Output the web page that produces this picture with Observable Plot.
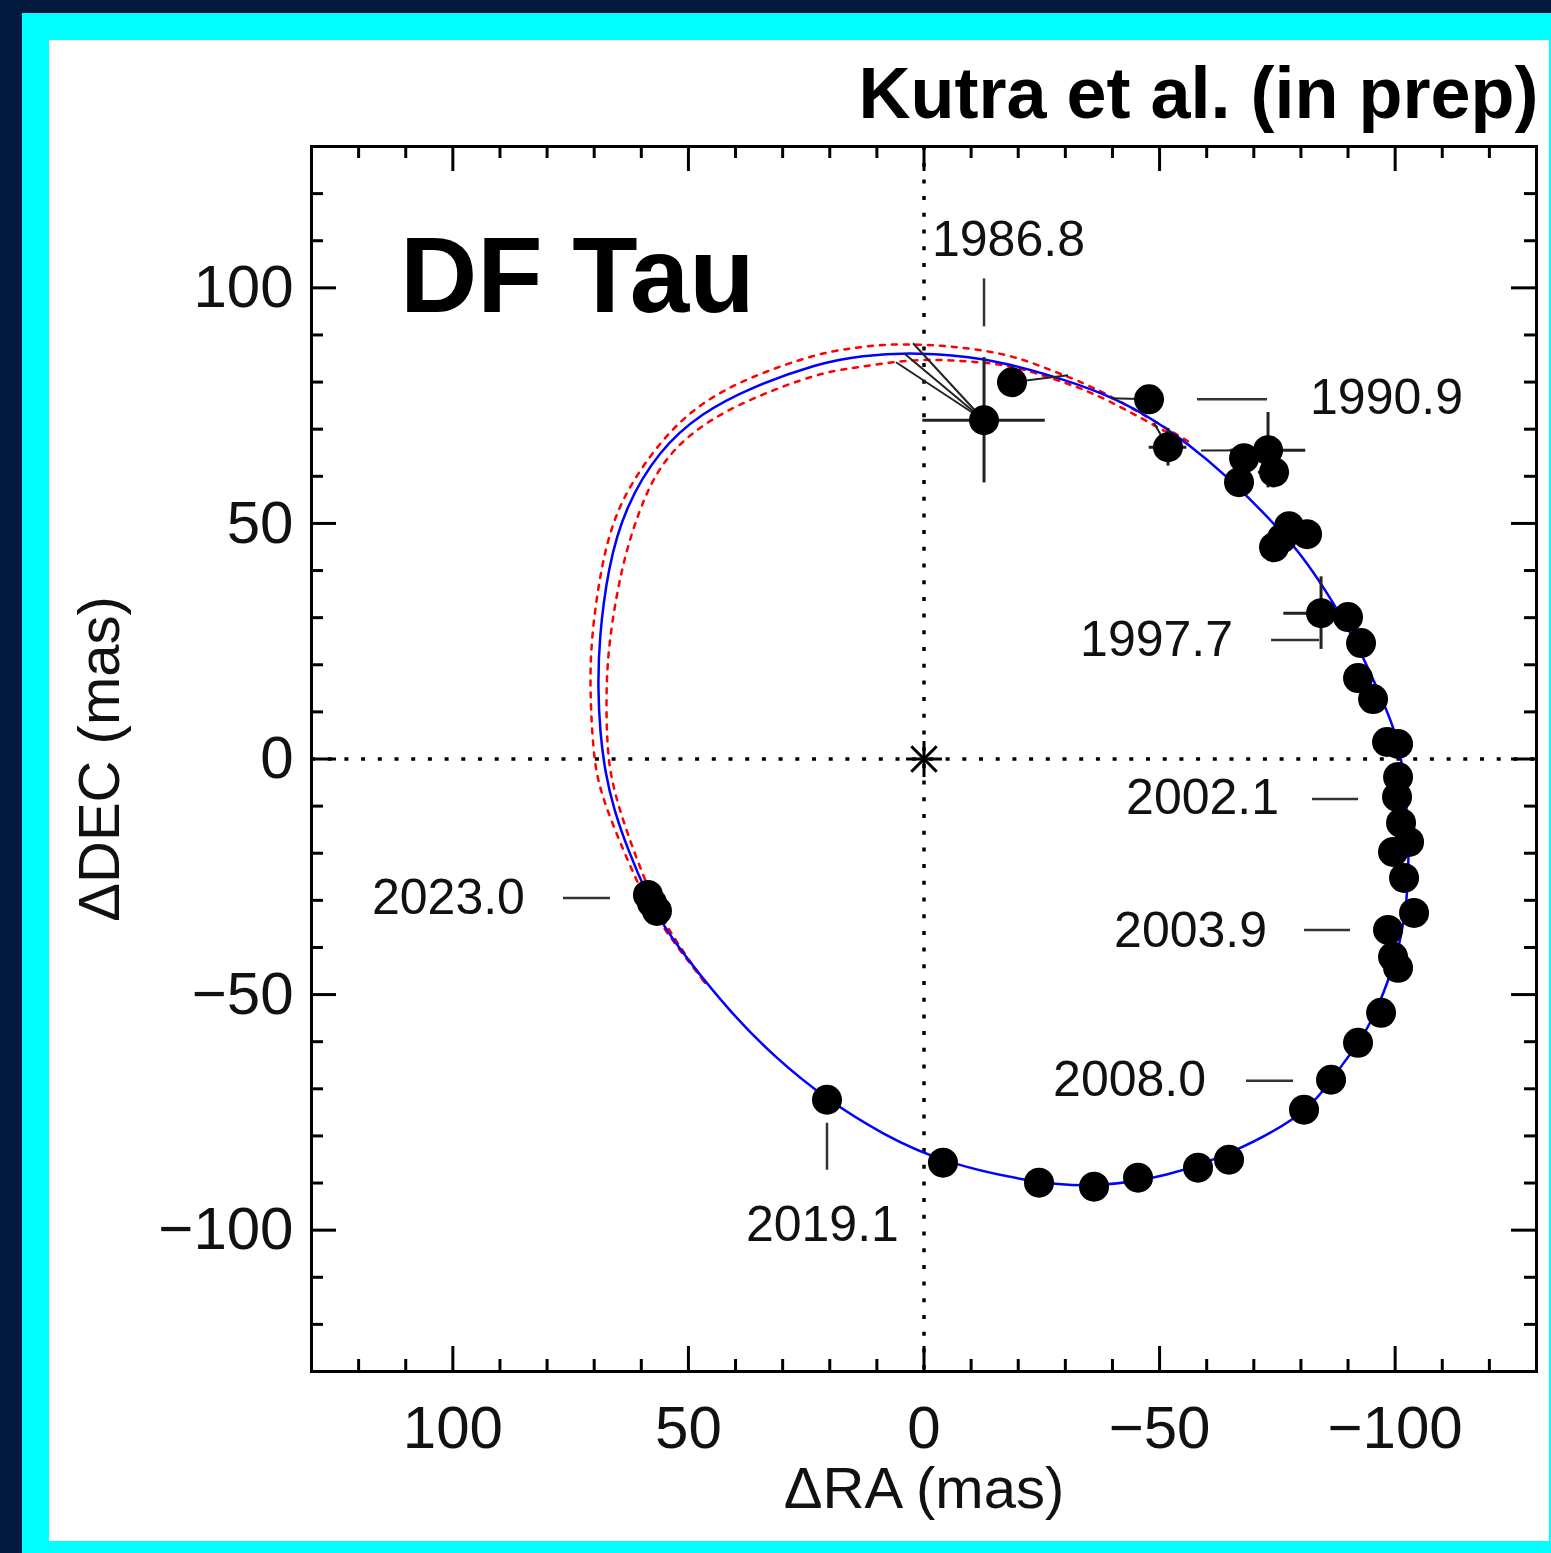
<!DOCTYPE html>
<html><head><meta charset="utf-8">
<script src="https://cdn.jsdelivr.net/npm/d3@7"></script>
<script src="https://cdn.jsdelivr.net/npm/@observablehq/plot@0.6"></script>
<style>
html,body{margin:0;padding:0;background:#021a3d;width:1551px;height:1553px;overflow:hidden}
#cyan{position:absolute;left:22px;top:13px;width:1529px;height:1540px;background:#00ffff}
#white{position:absolute;left:49px;top:40px;width:1500px;height:1501px;background:#ffffff}
#chart{position:absolute;left:0;top:0;width:1551px;height:1553px}
</style></head><body>
<div id="cyan"></div><div id="white"></div><div id="chart"></div>
<script>
// ---- axis ticks ----
const xMajor = [100, 50, 0, -50, -100];
const yMajor = [100, 50, 0, -50, -100];
const xMinor = [120,110,90,80,70,60,40,30,20,10,-10,-20,-30,-40,-60,-70,-80,-90,-110,-120];
const yMinor = [120,110,90,80,70,60,40,30,20,10,-10,-20,-30,-40,-60,-70,-80,-90,-110,-120];

// ---- observed positions (mas) ----
const obsRA  = [-12.74,-18.68,-47.76,-51.79,-67.93,-73.02,-74.29,-66.86,-77.48,-81.30,-75.99,-74.29,-84.27,-90.00,-92.76,-92.12,-95.31,-98.28,-100.62,-100.62,-100.40,-101.25,-102.95,-99.55,-101.89,-104.01,-98.49,-99.55,-100.62,-97.01,-92.12,-86.39,-80.66,-64.74,-58.16,-45.43,-36.09,-24.41,-4.03,20.59,58.59,57.74,56.68];
const obsDEC = [71.90,79.96,76.35,66.17,63.84,65.54,60.87,58.75,49.42,47.72,46.87,44.96,30.96,30.12,24.60,17.18,12.73,3.61,3.18,-3.82,-8.06,-13.57,-17.60,-19.72,-25.24,-32.66,-36.27,-41.99,-44.33,-53.87,-60.23,-68.08,-74.44,-85.05,-86.74,-88.86,-90.77,-89.93,-85.68,-72.32,-28.84,-30.54,-32.24];
const errRA  = [13,0,0,4,0,8,3.3,0,0,0,0,0,7.9,0,0,0,0,0,0,0,0,0,0,0,0,0,0,0,0,0,0,0,0,0,0,0,0,0,0,0,0,0,0];
const errDEC = [13.3,0,0,4,0,8,3.3,0,0,0,0,0,7.7,0,0,0,0,0,0,0,0,0,0,0,0,0,0,0,0,0,0,0,0,0,0,0,0,0,0,0,0,0,0];

// ---- residual lines: observed point index -> predicted position ----
const resFrom = [0, 0, 0, 1, 2, 3, 5];
const resRA   = [2.33, 4.25, 5.94, -30.57, -39.69, -48.8, -58.8];
const resDEC  = [88.23, 86.11, 84.20, 81.44, 76.56, 71.3, 65.5];

// ---- best-fit orbit (blue) ----
const orbitRA  = [1.70,-12.74,-26.96,-37.57,-46.70,-56.04,-64.53,-72.60,-80.03,-87.03,-92.76,-97.01,-99.77,-101.46,-102.53,-102.95,-102.53,-101.25,-98.49,-94.25,-90.00,-85.33,-80.03,-65.80,-51.79,-36.09,-23.35,-4.03,8.70,20.59,31.63,41.39,50.10,55.19,58.59,62.83,65.80,67.71,68.77,69.20,68.99,67.07,63.46,56.25,47.34,36.72,22.50,13.37];
const orbitDEC = [86.32,85.26,81.44,77.84,73.38,67.02,59.81,51.75,43.69,33.09,22.69,13.15,6.57,-0.21,-10.82,-21.42,-29.90,-38.39,-47.51,-57.48,-63.20,-69.78,-75.93,-83.56,-88.65,-90.99,-89.93,-85.68,-79.75,-72.32,-63.41,-53.45,-42.63,-35.63,-29.27,-19.30,-10.82,-2.76,5.94,14.63,25.24,40.72,53.45,65.54,73.38,78.90,83.99,85.68];

// ---- alternative orbits (red dotted) ----
const redOuterRA  = [-56.04,-37.57,-26.96,-19.95,-12.74,-5.73,1.27,8.49,15.50,22.50,36.72,47.34,55.83,64.95,68.56,70.69,70.90,70.26,68.99,63.89,59.43,55.61,46.48];
const redOuterDEC = [67.44,78.47,82.50,85.26,86.74,87.59,88.02,88.02,87.17,86.11,81.23,75.72,67.87,54.51,41.15,25.24,14.63,1.91,-6.57,-19.30,-29.27,-35.63,-47.51];
const redInnerRA  = [-56.04,-37.57,-28.44,-19.95,-12.74,-5.73,1.27,8.49,15.50,22.50,36.72,47.34,55.83,60.71,64.32,66.86,67.50,67.29,66.01,61.77,57.74,54.77,46.48];
const redInnerDEC = [66.81,77.20,80.38,83.14,84.20,84.62,84.84,83.99,82.93,81.87,76.56,71.05,63.20,52.39,40.30,25.24,14.63,1.91,-6.57,-19.30,-29.27,-35.63,-47.51];

// ---- epoch labels ----
const labelText   = ["1986.8","1990.9","1997.7","2002.1","2003.9","2008.0","2019.1","2023.0"];
const labelRA     = [-1.70,-81.94,-65.59,-75.36,-72.81,-59.86,21.56,84.70];
const labelDEC    = [110.08,76.56,25.24,-8.27,-36.48,-68.08,-98.83,-29.48];
const labelAnchor = ["start","start","end","end","end","end","middle","end"];
const tickRA1  = [-12.74,-57.95,-73.66,-82.36,-80.66,-68.35,20.59,76.63];
const tickDEC1 = [102.01,76.35,25.24,-8.48,-36.27,-68.29,-77.20,-29.48];
const tickRA2  = [-12.74,-72.81,-83.85,-92.12,-90.43,-78.33,20.59,66.65];
const tickDEC2 = [91.83,76.35,25.24,-8.48,-36.27,-68.29,-87.17,-29.48];

const titleText = ["DF Tau"];
const titleRA = [111.23];
const titleDEC = [94.8];
const creditText = ["Kutra et al. (in prep)"];
const xTitle = ["\u0394RA (mas)"];
const yTitle = ["\u0394DEC (mas)"];

// ---- build tables ----
const obs = obsRA.map((ra, i) => ({ra, dec: obsDEC[i], era: errRA[i], edec: errDEC[i]}));
const errs = obs.filter(d => d.era > 0 || d.edec > 0);
const res = resFrom.map((k, i) => ({x1: obsRA[k], y1: obsDEC[k], x2: resRA[i], y2: resDEC[i]}));
const orbit = orbitRA.map((ra, i) => ({ra, dec: orbitDEC[i]}));
const redOuter = redOuterRA.map((ra, i) => ({ra, dec: redOuterDEC[i]}));
const redInner = redInnerRA.map((ra, i) => ({ra, dec: redInnerDEC[i]}));
const labels = labelText.map((t, i) => ({t, ra: labelRA[i], dec: labelDEC[i], a: labelAnchor[i]}));
const lticks = tickRA1.map((r, i) => ({x1: r, y1: tickDEC1[i], x2: tickRA2[i], y2: tickDEC2[i]}));

const W = 1551, H = 1553, mL = 311, mR = 15, mT = 146, mB = 182;
const fW = W - mL - mR, fH = H - mT - mB;
const majorLen = 25, minorLen = 12;
const font = "'Liberation Sans', Arial, Helvetica, sans-serif";
const fmt = d => d < 0 ? "\u2212" + Math.abs(d) : String(d);
const dotted = {stroke: "black", strokeWidth: 3.5, strokeDasharray: "4,12.7"};
const tk = {stroke: "black", strokeWidth: 3};
const lblStyle = {x: "ra", y: "dec", text: "t", lineAnchor: "middle", fontSize: 50, fill: "#111"};

const chart = Plot.plot({
  width: W, height: H,
  marginLeft: mL, marginRight: mR, marginTop: mT, marginBottom: mB,
  x: {domain: [130, -130]},
  y: {domain: [-130, 130]},
  style: {background: "transparent", fontFamily: font, color: "black", overflow: "visible"},
  marks: [
    Plot.ruleX([0], dotted),
    Plot.ruleY([0], dotted),
    Plot.line(redOuter, {x: "ra", y: "dec", stroke: "#ff0000", strokeWidth: 2.5, strokeDasharray: "5,7", curve: "basis"}),
    Plot.line(redInner, {x: "ra", y: "dec", stroke: "#ff0000", strokeWidth: 2.5, strokeDasharray: "5,7", curve: "basis"}),
    Plot.line(orbit, {x: "ra", y: "dec", stroke: "#0000ff", strokeWidth: 2.5, curve: "basis-closed"}),
    Plot.link(res, {x1: "x1", y1: "y1", x2: "x2", y2: "y2", stroke: "#222", strokeWidth: 2}),
    Plot.ruleY(errs, {y: "dec", x1: d => d.ra - d.era, x2: d => d.ra + d.era, stroke: "#222", strokeWidth: 3}),
    Plot.ruleX(errs, {x: "ra", y1: d => d.dec - d.edec, y2: d => d.dec + d.edec, stroke: "#222", strokeWidth: 3}),
    Plot.dot(obs, {x: "ra", y: "dec", r: 15, fill: "black", stroke: "none"}),
    Plot.dot([{ra: 0, dec: 0}], {x: "ra", y: "dec", symbol: "plus", r: 11.6, stroke: "black", strokeWidth: 3}),
    Plot.dot([{ra: 0, dec: 0}], {x: "ra", y: "dec", symbol: "times", r: 11.6, stroke: "black", strokeWidth: 3}),
    Plot.link(lticks, {x1: "x1", y1: "y1", x2: "x2", y2: "y2", stroke: "#333", strokeWidth: 2.5}),
    Plot.text(labels.filter(d => d.a === "start"), {...lblStyle, textAnchor: "start"}),
    Plot.text(labels.filter(d => d.a === "end"), {...lblStyle, textAnchor: "end"}),
    Plot.text(labels.filter(d => d.a === "middle"), {...lblStyle, textAnchor: "middle"}),
    Plot.text(titleText, {x: (d, i) => titleRA[i], y: (d, i) => titleDEC[i], text: d => d, textAnchor: "start", lineAnchor: "bottom", fontSize: 107, fontWeight: "bold", fill: "black"}),
    Plot.text(creditText, {text: d => d, frameAnchor: "top-right", textAnchor: "end", lineAnchor: "bottom", dx: 2, dy: -29, fontSize: 72, fontWeight: "bold", fill: "black"}),
    Plot.text(xTitle, {text: d => d, frameAnchor: "bottom", textAnchor: "middle", lineAnchor: "middle", dy: 118, fontSize: 58, fill: "#111"}),
    Plot.text(yTitle, {text: d => d, frameAnchor: "left", textAnchor: "middle", lineAnchor: "middle", rotate: -90, dx: -211, fontSize: 58, fill: "#111"}),
    // ticks, inward on all four sides
    Plot.tickX(xMajor, {x: d => d, insetTop: fH - majorLen, ...tk}),
    Plot.tickX(xMajor, {x: d => d, insetBottom: fH - majorLen, ...tk}),
    Plot.tickX(xMinor, {x: d => d, insetTop: fH - minorLen, ...tk}),
    Plot.tickX(xMinor, {x: d => d, insetBottom: fH - minorLen, ...tk}),
    Plot.tickY(yMajor, {y: d => d, insetRight: fW - majorLen, ...tk}),
    Plot.tickY(yMajor, {y: d => d, insetLeft: fW - majorLen, ...tk}),
    Plot.tickY(yMinor, {y: d => d, insetRight: fW - minorLen, ...tk}),
    Plot.tickY(yMinor, {y: d => d, insetLeft: fW - minorLen, ...tk}),
    Plot.axisX({ticks: xMajor, tickSize: 0, tickPadding: 34, fontSize: 60, tickFormat: fmt, label: null, fill: "#111"}),
    Plot.axisY({ticks: yMajor, tickSize: 0, tickPadding: 18, fontSize: 60, tickFormat: fmt, label: null, fill: "#111"}),
    Plot.frame({stroke: "black", strokeWidth: 3})
  ]
});
document.getElementById("chart").appendChild(chart);
</script>
</body></html>
